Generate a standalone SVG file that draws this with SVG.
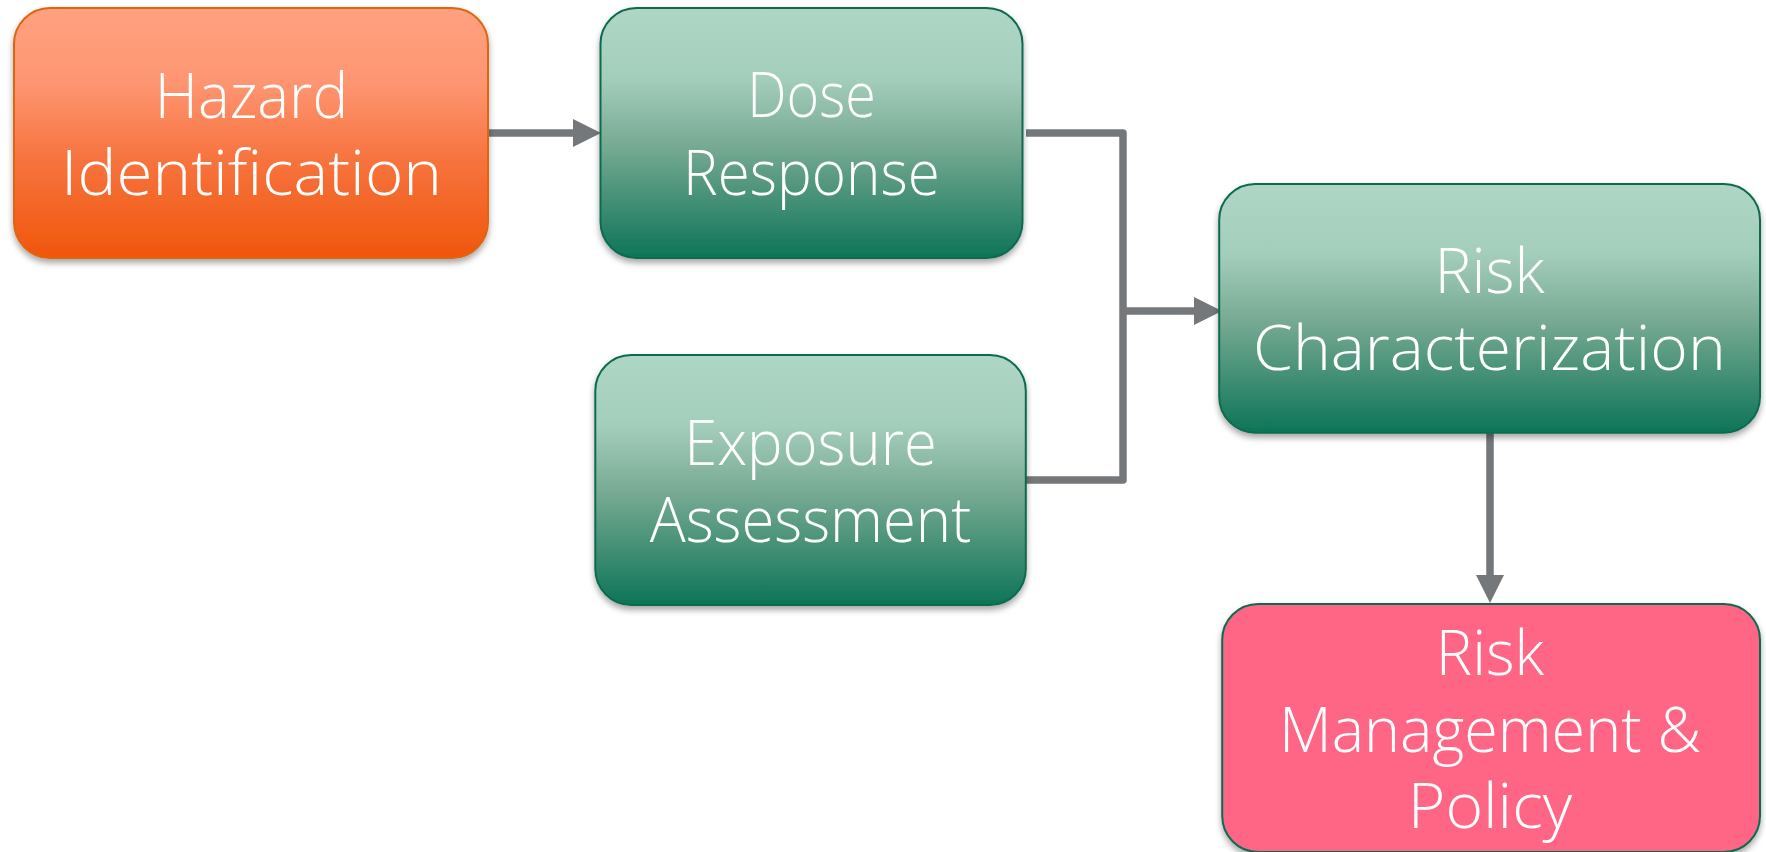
<svg xmlns="http://www.w3.org/2000/svg" width="1766" height="852" viewBox="0 0 1766 852">
<style>
  .lbl { font-family: "Open Sans", "Liberation Sans", Arial, sans-serif; font-weight: 300; font-size: 62px; fill: #ffffff; }
  .conn { fill: none; stroke: #75787b; stroke-width: 7.5; stroke-linejoin: round; }
  .green { fill: url(#gGreen); stroke: #0e6b50; stroke-width: 2; }
</style>
<defs>
  <linearGradient id="gOrange" x1="0" y1="0" x2="0" y2="1">
    <stop offset="0" stop-color="#ffa17f"/>
    <stop offset="0.3" stop-color="#fe9572"/>
    <stop offset="0.6" stop-color="#f7743f"/>
    <stop offset="1" stop-color="#f0560c"/>
  </linearGradient>
  <linearGradient id="gGreen" x1="0" y1="0" x2="0" y2="1">
    <stop offset="0" stop-color="#aed6c5"/>
    <stop offset="0.28" stop-color="#a4cebc"/>
    <stop offset="0.55" stop-color="#77aa93"/>
    <stop offset="1" stop-color="#0d7457"/>
  </linearGradient>
  <filter id="shadow" x="-5%" y="-5%" width="110%" height="120%">
    <feDropShadow dx="0" dy="4" stdDeviation="3" flood-color="#000" flood-opacity="0.35"/>
  </filter>
  <marker id="arrow" viewBox="0 0 28 28" refX="0" refY="14" markerWidth="28" markerHeight="28" markerUnits="userSpaceOnUse" orient="auto">
    <path d="M0,0 L28,14 L0,28 Z" fill="#75787b"/>
  </marker>
</defs>

<g id="connectors">
  <line class="conn" x1="488" y1="133" x2="573" y2="133" marker-end="url(#arrow)"/>
  <path class="conn" d="M1026,133 H1123 V480 H1026"/>
  <line class="conn" x1="1123" y1="311" x2="1194" y2="311" marker-end="url(#arrow)"/>
  <line class="conn" x1="1490" y1="433" x2="1490" y2="575" marker-end="url(#arrow)"/>
</g>

<g id="hazard">
  <rect x="14" y="8" width="474" height="250" rx="36" ry="36" fill="url(#gOrange)" stroke="#e0650f" stroke-width="2" filter="url(#shadow)"/>
  <text class="lbl" x="154.8" y="118.3" textLength="193.3" lengthAdjust="spacingAndGlyphs">Hazard</text>
  <text class="lbl" x="61" y="195" textLength="381" lengthAdjust="spacingAndGlyphs">Identification</text>
</g>

<g id="dose">
  <rect class="green" x="600.5" y="8" width="422" height="250" rx="36" ry="36" filter="url(#shadow)"/>
  <text class="lbl" x="747.2" y="117.3" textLength="128.6" lengthAdjust="spacingAndGlyphs">Dose</text>
  <text class="lbl" x="683.1" y="195" textLength="256.7" lengthAdjust="spacingAndGlyphs">Response</text>
</g>

<g id="exposure">
  <rect class="green" x="595.3" y="355" width="430.5" height="250" rx="36" ry="36" filter="url(#shadow)"/>
  <text class="lbl" x="684.2" y="465" textLength="252.6" lengthAdjust="spacingAndGlyphs">Exposure</text>
  <text class="lbl" x="649.7" y="541.7" textLength="321.5" lengthAdjust="spacingAndGlyphs">Assessment</text>
</g>

<g id="riskchar">
  <rect class="green" x="1219.2" y="184" width="540.8" height="248.7" rx="36" ry="36" filter="url(#shadow)"/>
  <text class="lbl" x="1434.4" y="293.3" textLength="110.2" lengthAdjust="spacingAndGlyphs">Risk</text>
  <text class="lbl" x="1253.1" y="370" textLength="472.7" lengthAdjust="spacingAndGlyphs">Characterization</text>
</g>

<g id="riskmgmt">
  <rect x="1222.2" y="604" width="537.8" height="248" rx="36" ry="36" fill="#ff6686" stroke="#0e6b50" stroke-width="2" filter="url(#shadow)"/>
  <text class="lbl" x="1435.8" y="675" textLength="108.4" lengthAdjust="spacingAndGlyphs">Risk</text>
  <text class="lbl" x="1279" y="751.7" textLength="422" lengthAdjust="spacingAndGlyphs">Management &amp;</text>
  <text class="lbl" x="1407.8" y="828.3" textLength="164.4" lengthAdjust="spacingAndGlyphs">Policy</text>
</g>
</svg>
